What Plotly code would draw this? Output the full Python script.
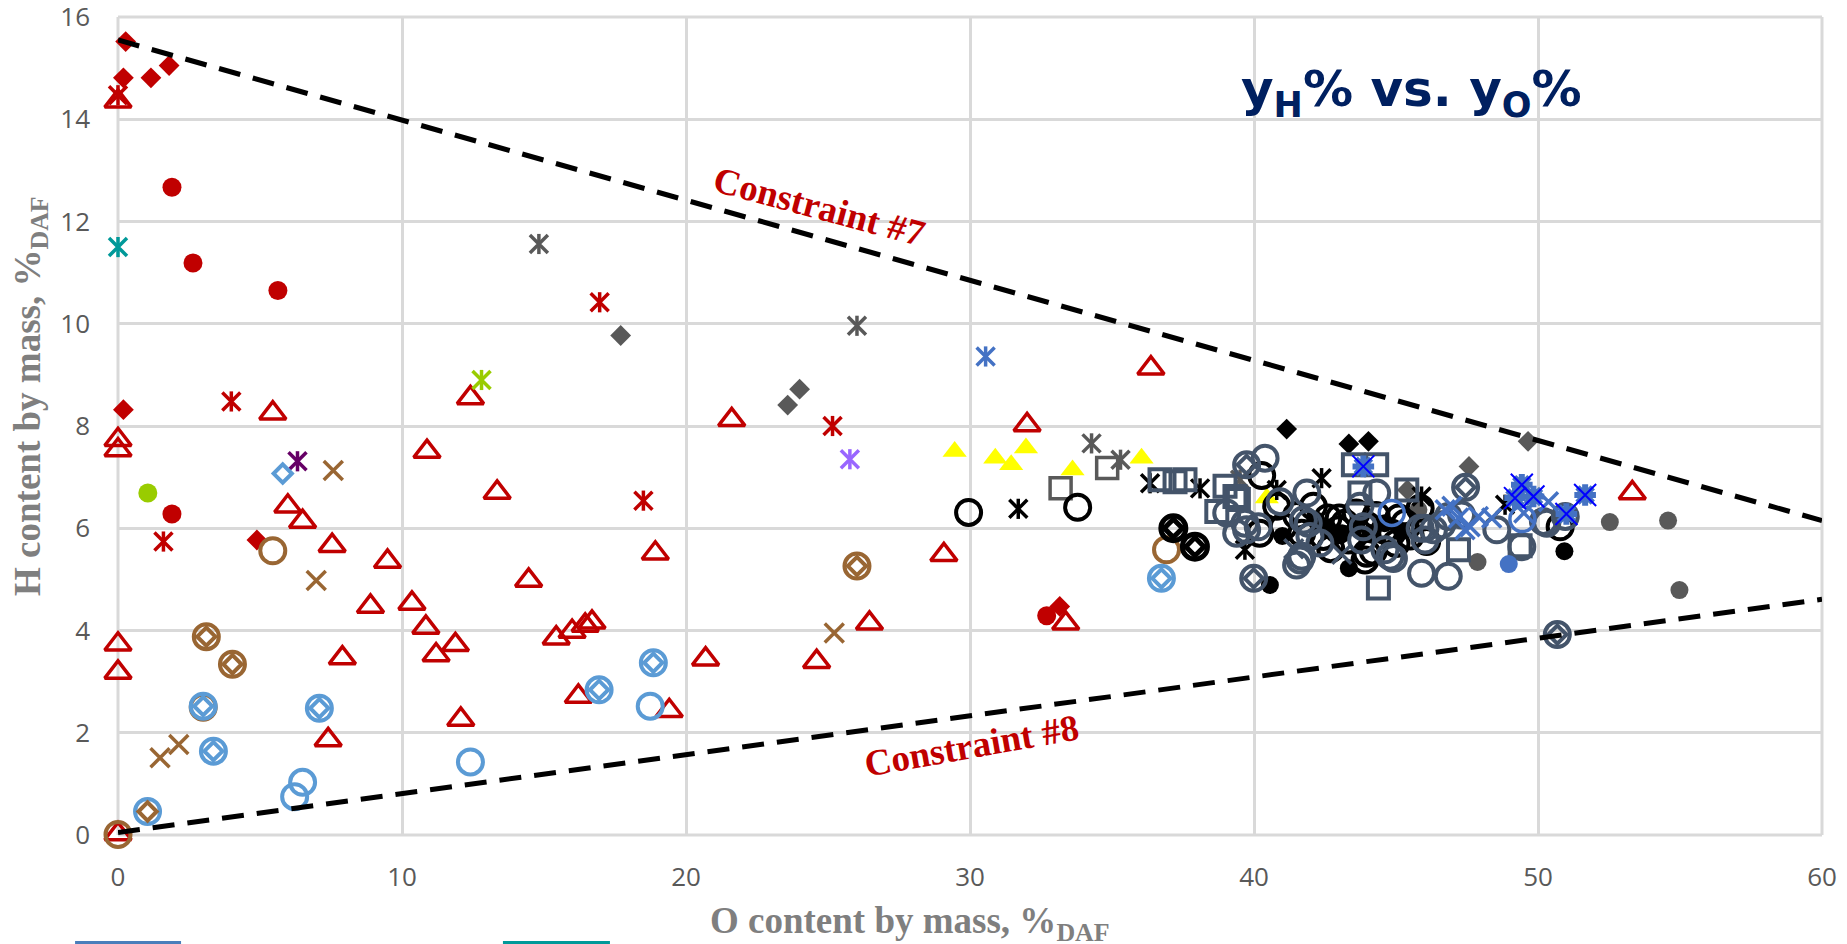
import plotly.graph_objects as go

# ---------------- data: O content (x) vs H content (y), % DAF ----------------
red_tri_x = [0, 0, 0, 0, 0, 0, 5.45, 5.98, 6.50, 7.54, 9.49, 8.89, 10.35, 10.84, 11.20, 11.88,
             7.90, 7.40, 12.07, 13.35, 14.46, 15.43, 15.99, 16.45, 16.69, 16.21, 12.41, 10.88,
             18.92, 19.41, 20.69, 24.60, 26.46, 29.08, 33.37, 21.61, 32.01, 36.37, 53.32]
red_tri_y = [14.35, 7.73, 7.53, 3.73, 3.18, 0.02, 8.25, 6.43, 6.13, 5.66, 5.35, 4.47, 4.53, 4.06, 3.52, 3.72,
             3.46, 1.86, 2.26, 6.70, 4.98, 3.85, 3.98, 4.10, 4.16, 2.71, 8.55, 7.50,
             5.51, 2.43, 3.44, 3.39, 4.14, 5.48, 4.14, 8.12, 8.02, 9.13, 6.69]

red_dia_x = [0.27, 0.19, 1.16, 1.80, 0.19, 4.89, 33.16]
red_dia_y = [15.52, 14.81, 14.81, 15.05, 8.32, 5.77, 4.47]

red_dot_x = [1.90, 2.64, 5.63, 1.90, 32.70]
red_dot_y = [12.67, 11.19, 10.65, 6.28, 4.29]

red_ast_x = [0, 3.99, 1.60, 16.96, 25.16, 18.50]
red_ast_y = [14.47, 8.48, 5.74, 10.42, 8.00, 6.54]

teal_ast_x = [0]
teal_ast_y = [11.50]

gray_ast_x = [14.82, 26.02, 34.28, 35.30, 39.51]
gray_ast_y = [11.56, 9.96, 7.66, 7.34, 6.95]

gray_dia_x = [17.70, 23.58, 24.00, 47.57, 49.65, 45.40]
gray_dia_y = [9.77, 8.41, 8.72, 7.21, 7.70, 6.75]

green_ast_x = [12.80]
green_ast_y = [8.90]
green_dot_x = [1.05]
green_dot_y = [6.69]

purple_ast_x = [6.32]
purple_ast_y = [7.31]
lilac_ast_x = [25.77]
lilac_ast_y = [7.35]

brown_x_x = [7.58, 6.98, 1.48, 2.14, 25.22]
brown_x_y = [7.13, 4.98, 1.51, 1.77, 3.95]

brown_ring_x = [5.45, 36.92, 0, 3.00, 3.11, 4.03, 26.02]
brown_ring_y = [5.56, 5.58, 0.01, 2.50, 3.88, 3.34, 5.26]
brown_dia_x = [3.11, 4.03, 26.02, 1.04]
brown_dia_y = [3.88, 3.34, 5.26, 0.46]

lblue_ring_x = [3.00, 3.36, 7.09, 16.94, 18.85, 36.74, 1.04, 6.22, 6.50, 12.41, 18.74]
lblue_ring_y = [2.52, 1.64, 2.48, 2.84, 3.37, 5.02, 0.46, 0.75, 1.03, 1.43, 2.52]
lblue_dia_x = [3.00, 3.36, 7.09, 16.94, 18.85, 36.74, 5.80]
lblue_dia_y = [2.52, 1.64, 2.48, 2.84, 3.37, 5.02, 7.07]

yellow_tri_x = [29.46, 30.89, 31.45, 31.97, 33.61, 36.04, 40.45]
yellow_tri_y = [7.50, 7.37, 7.24, 7.57, 7.14, 7.37, 6.59]

gray_sq_x = [33.19, 34.83]
gray_sq_y = [6.78, 7.18]

black_ring_x = [29.95, 33.79, 40.27, 40.80, 41.03, 42.09, 42.44, 42.97, 43.20, 43.60, 44.30, 44.60,
                45.10, 45.85, 45.00, 43.97, 43.32, 43.91, 44.85, 45.32, 46.08, 41.68, 40.20, 50.78,
                42.70, 44.20, 41.50, 43.00, 44.00, 42.60, 45.50]
black_ring_y = [6.31, 6.41, 7.03, 6.43, 6.03, 6.43, 5.84, 5.97, 6.10, 6.30, 6.25, 5.96,
                6.20, 6.39, 5.70, 5.51, 5.77, 5.38, 5.90, 6.10, 5.74, 5.90, 5.90, 6.03,
                5.60, 5.55, 6.25, 6.20, 6.05, 6.20, 5.85]

black_dot_x = [40.56, 43.34, 50.93, 42.60, 43.10, 43.60, 44.10, 44.60, 42.20, 41.00, 45.20]
black_dot_y = [4.89, 5.22, 5.55, 6.00, 5.90, 6.05, 5.90, 6.10, 6.15, 5.85, 5.95]

black_ast_x = [31.70, 36.34, 38.10, 42.38, 39.68, 45.90, 48.84, 40.80]
black_ast_y = [6.38, 6.88, 6.78, 6.98, 5.58, 6.62, 6.46, 6.75]

black_cd_x = [37.16, 37.92]
black_cd_y = [6.00, 5.64]

black_dia_x = [41.15, 43.34, 44.03]
black_dia_y = [7.94, 7.65, 7.70]

slate_ring_x = [40.39, 40.92, 41.86, 39.68, 39.39, 40.15, 39.04, 39.74, 41.91, 41.97, 42.32, 41.68,
                41.50, 41.62, 44.32, 43.73, 43.85, 43.79, 44.61, 44.91, 44.79, 46.02, 46.32, 46.61,
                46.02, 46.84, 47.31, 45.90, 46.84, 48.55, 50.19, 50.31, 50.96, 49.43, 45.85, 41.74]
slate_ring_y = [7.37, 6.52, 6.69, 6.10, 5.90, 6.03, 6.30, 5.97, 6.10, 5.84, 5.71, 5.45,
                5.28, 5.38, 6.69, 6.43, 6.03, 5.77, 5.58, 5.41, 5.45, 6.00, 5.97, 6.07,
                5.77, 6.23, 6.26, 5.12, 5.06, 5.97, 6.13, 6.10, 6.23, 5.64, 6.00, 6.16]

slate_cd_x = [39.74, 39.99, 47.45, 50.68]
slate_cd_y = [7.24, 5.02, 6.80, 3.92]

slate_sq_x = [36.69, 37.22, 37.57, 38.98, 39.45, 38.69, 43.50, 44.32, 45.38, 39.33, 47.20, 49.37,
              44.38, 43.73]
slate_sq_y = [6.95, 6.91, 6.95, 6.82, 6.56, 6.33, 7.24, 7.24, 6.75, 6.62, 5.58, 5.66,
              4.83, 6.69]

slate_x_x = [43.09, 41.40]
slate_x_y = [5.49, 5.60]

gray_dot_x = [47.87, 52.53, 54.58, 54.98, 45.79]
gray_dot_y = [5.34, 6.12, 6.15, 4.79, 6.36]

blue_dot_x = [48.97]
blue_dot_y = [5.30]

blue_ring_x = [49.45, 44.85]
blue_ring_y = [6.18, 6.30]

blue_ast_x = [30.55]
blue_ast_y = [9.36]

blue_star_x = [43.85, 49.43, 49.84, 49.19, 51.66, 51.00]
blue_star_y = [7.21, 6.85, 6.62, 6.59, 6.65, 6.28]

blue_x_x = [46.73, 47.20, 47.90, 47.43, 48.37, 50.37, 46.97, 47.61, 49.50]
blue_x_y = [6.36, 6.20, 6.23, 5.97, 6.20, 6.52, 6.43, 6.03, 6.30]

# constraint boundaries
c7_x = [0, 60]
c7_y = [15.55, 6.15]
c8_x = [0, 60]
c8_y = [0.05, 4.61]

x_ticks = [0, 10, 20, 30, 40, 50, 60]
y_ticks = [0, 2, 4, 6, 8, 10, 12, 14, 16]

# ---------------- colours ----------------
RED = "#C00000"
GRAY = "#595959"
SLATE = "#44546A"
LBLUE = "#5B9BD5"
BLUE = "#4472C4"
BROWN = "#996633"
GREEN = "#99CC00"
PURPLE = "#660066"
LILAC = "#9966FF"
TEAL = "#009999"
YELLOW = "#FFFF00"
GRID = "#D9D9D9"

fig = go.Figure()


def pts(xs, ys, symbol, color, size, lw=0):
    fig.add_trace(go.Scatter(
        x=xs, y=ys, mode="markers", cliponaxis=False, hoverinfo="skip", showlegend=False,
        marker=dict(symbol=symbol, color=color, size=size, line=dict(color=color, width=lw)),
    ))


def star(xs, ys, color, size=18, lw=3.5):
    # six-armed star: a thin x plus a vertical bar
    pts(xs, ys, "x-thin-open", color, size, lw)
    pts(xs, ys, "line-ns-open", color, size * 0.8, lw)


def ring_diamond(xs, ys, color, lw=4):
    pts(xs, ys, "circle-open", color, 25, lw)
    pts(xs, ys, "diamond-open", color, 14, lw)


# red series
pts(red_tri_x, red_tri_y, "triangle-up-open", RED, 23, 3.5)
pts(red_dia_x, red_dia_y, "diamond", RED, 16)
pts(red_dot_x, red_dot_y, "circle", RED, 19)
star(red_ast_x, red_ast_y, RED)
star(teal_ast_x, teal_ast_y, TEAL)
star(green_ast_x, green_ast_y, GREEN)
pts(green_dot_x, green_dot_y, "circle", GREEN, 19)
star(purple_ast_x, purple_ast_y, PURPLE)
star(lilac_ast_x, lilac_ast_y, LILAC)
pts(brown_x_x, brown_x_y, "x-thin-open", BROWN, 19, 3.5)

# brown and light-blue rings / diamonds
pts(brown_ring_x, brown_ring_y, "circle-open", BROWN, 25, 4)
pts(lblue_ring_x, lblue_ring_y, "circle-open", LBLUE, 25, 4)
pts(lblue_dia_x, lblue_dia_y, "diamond-open", LBLUE, 14, 4)
pts(brown_dia_x, brown_dia_y, "diamond-open", BROWN, 14, 4)

# grey series
star(gray_ast_x, gray_ast_y, GRAY)
pts(gray_dia_x, gray_dia_y, "diamond", GRAY, 16)
pts(gray_sq_x, gray_sq_y, "square-open", GRAY, 21, 3.5)
pts(gray_dot_x, gray_dot_y, "circle", GRAY, 18)

# yellow triangles
pts(yellow_tri_x, yellow_tri_y, "triangle-up", YELLOW, 21)

# black series
pts(black_dot_x, black_dot_y, "circle", "black", 18)
pts(black_ring_x, black_ring_y, "circle-open", "black", 25, 4)
star(black_ast_x, black_ast_y, "black")
ring_diamond(black_cd_x, black_cd_y, "black", 5)
pts(black_dia_x, black_dia_y, "diamond", "black", 16)

# slate series
pts(slate_ring_x, slate_ring_y, "circle-open", SLATE, 25, 4)
pts(slate_sq_x, slate_sq_y, "square-open", SLATE, 21, 4)
pts(slate_x_x, slate_x_y, "x-thin-open", SLATE, 19, 3.5)
ring_diamond(slate_cd_x, slate_cd_y, SLATE)

# blue series
pts(blue_dot_x, blue_dot_y, "circle", BLUE, 18)
pts(blue_ring_x, blue_ring_y, "circle-open", BLUE, 25, 3.5)
pts(blue_x_x, blue_x_y, "x-thin-open", BLUE, 19, 3.5)
star(blue_ast_x, blue_ast_y, BLUE)
pts(blue_star_x, blue_star_y, "asterisk-open", BLUE, 18, 6)
pts(blue_star_x, blue_star_y, "x-thin-open", "#0000FF", 22, 2)

# constraint lines
for cx, cy in ((c7_x, c7_y), (c8_x, c8_y)):
    fig.add_trace(go.Scatter(
        x=cx, y=cy, mode="lines", hoverinfo="skip", showlegend=False, cliponaxis=False,
        line=dict(color="black", width=5, dash="22px,13px"),
    ))

serif = "Liberation Serif"
fig.add_annotation(x=24.70, y=12.30, xref="x", yref="y", text="Constraint #7", showarrow=False,
                   xanchor="center", yanchor="middle",
                   textangle=15, font=dict(family=serif, size=37, color=RED, weight="bold"))
fig.add_annotation(x=30.07, y=1.76, xref="x", yref="y", text="Constraint #8", showarrow=False,
                   xanchor="center", yanchor="middle",
                   textangle=-10, font=dict(family=serif, size=37, color=RED, weight="bold"))

fig.add_annotation(x=45.56, y=14.52, xref="x", yref="y",
                   text="y<sub>H</sub>% vs. y<sub>O</sub>%", showarrow=False,
                   xanchor="center", yanchor="middle",
                   font=dict(family="DejaVu Sans", size=50, color="#002060", weight="bold"))

fig.add_annotation(x=0.4648, y=-0.108, xref="paper", yref="paper",
                   text="O content by mass, %<sub>DAF</sub>", showarrow=False,
                   xanchor="center", yanchor="middle",
                   font=dict(family=serif, size=37, color="#7F7F7F", weight="bold"))
fig.add_annotation(x=-0.0511, y=0.5367, xref="paper", yref="paper", textangle=-90,
                   text="H content by mass, %<sub>DAF</sub>", showarrow=False,
                   xanchor="center", yanchor="middle",
                   font=dict(family=serif, size=37, color="#7F7F7F", weight="bold"))

# frame lines on the plot edges (plotly skips gridlines that sit exactly on the ends)
for x0, x1, y0, y1 in ((0, 0, 0, 1), (1, 1, 0, 1), (0, 1, 0, 0), (0, 1, 1, 1)):
    fig.add_shape(type="line", xref="paper", yref="paper", x0=x0, x1=x1, y0=y0, y1=y1,
                  layer="below", line=dict(color=GRID, width=3))

# legend stubs along the bottom edge
fig.add_shape(type="line", xref="paper", yref="paper", x0=-0.0252, x1=0.0370, y0=-0.1314, y1=-0.1314,
              line=dict(color="#4A7EBB", width=3))
fig.add_shape(type="line", xref="paper", yref="paper", x0=0.2259, x1=0.2887, y0=-0.1314, y1=-0.1314,
              line=dict(color=TEAL, width=3))

tickfont = dict(family="Open Sans", size=26, color="#595959")
fig.update_xaxes(range=[0, 60], tickvals=x_ticks, showgrid=True, gridcolor=GRID, gridwidth=3,
                 zeroline=False, showline=False, ticks="", ticklabelstandoff=24, automargin=False,
                 ticklabeloverflow="allow", tickfont=tickfont)
fig.update_yaxes(range=[0, 16], tickvals=y_ticks, showgrid=True, gridcolor=GRID, gridwidth=3,
                 zeroline=False, showline=False, ticks="", ticklabelstandoff=27, automargin=False,
                 ticklabeloverflow="allow", tickfont=tickfont)

fig.update_layout(
    width=1847, height=944, autosize=False,
    margin=dict(l=118, r=25, t=17, b=109),
    paper_bgcolor="white", plot_bgcolor="white",
    showlegend=False,
)

fig.write_html("out.html")
